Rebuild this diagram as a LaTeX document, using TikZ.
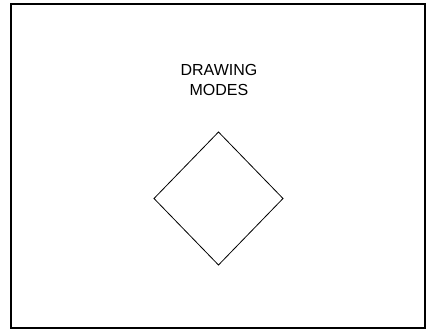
\documentclass[tikz,border=0pt]{standalone}
\usepackage{fontspec}
\setmainfont{Liberation Sans}
\usepackage{tikz}
\tikzset{
  rahmen/.style={draw,line width=1.2pt},
  raute/.style={draw,line width=0.8pt,line join=miter},
  titel/.style={anchor=base,inner sep=0pt,font=\fontsize{16}{19.5}\selectfont},
}

\begin{document}
\begin{tikzpicture}[x=1pt,y=-1pt]
  \useasboundingbox (0,0) rectangle (429,332);
  \draw[rahmen] (11,4) rectangle (425,328);
  \node[titel] (zeile1) at (219,75.5) {DRAWING};
  \node[titel] (zeile2) at (219,95.5) {MODES};
  \draw[raute] (218.5,132) -- (283,198.5) -- (218.5,265) -- (154,198.5) -- cycle;
\end{tikzpicture}
\end{document}
